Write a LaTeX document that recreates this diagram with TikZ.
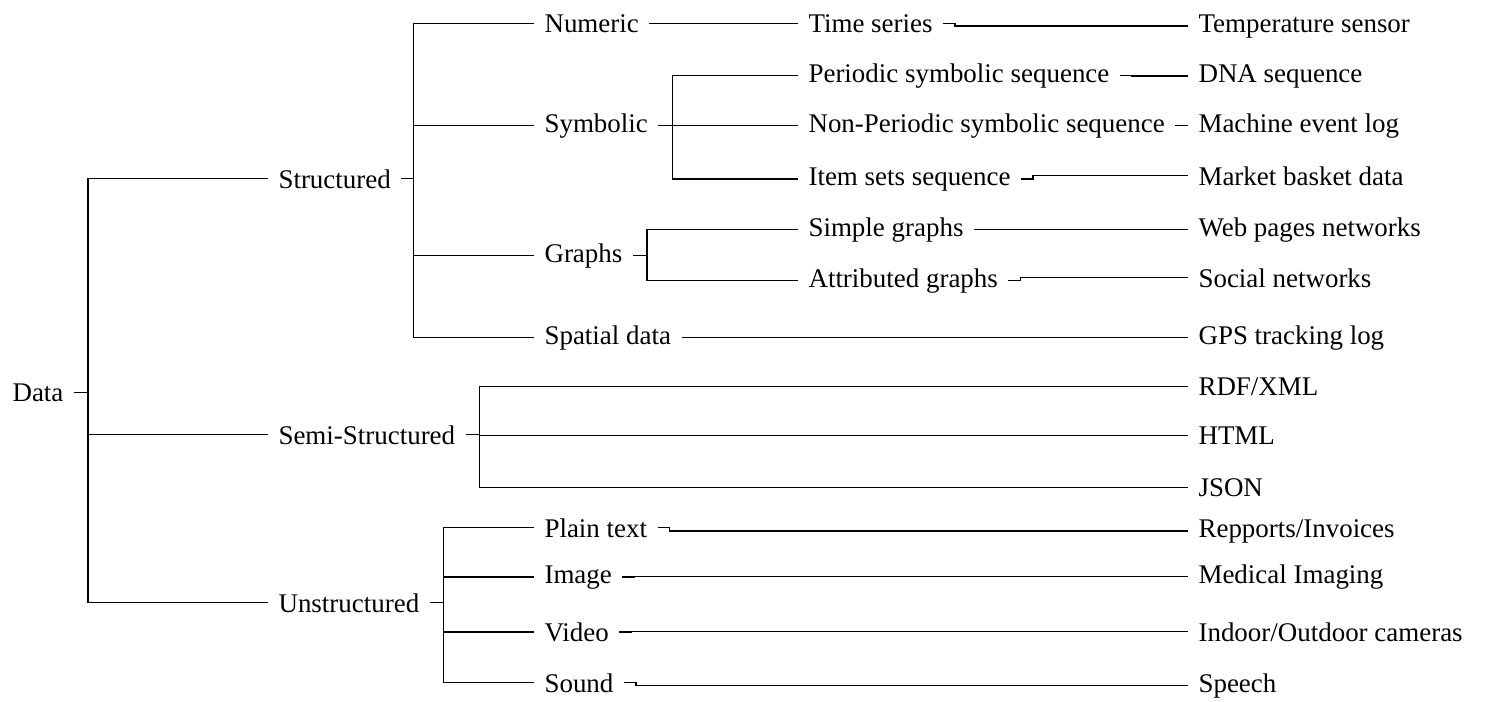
\documentclass[tikz,border=0pt]{standalone}
\usepackage{fontspec}
\setmainfont{Liberation Serif}
\usepackage{tikz}
\usetikzlibrary{calc,positioning}

\begin{document}
\begin{tikzpicture}[x=0.015cm, y=-0.015cm,
  lbl/.style={anchor=base west,inner xsep=4.3pt,inner ysep=2pt,font=\fontsize{11.5}{14}\selectfont},
  link/.style={line width=0.55pt,black}]
  \useasboundingbox (0,0) rectangle (1495,701);

  % root and first level
  \node[lbl] (data) at (2,401) {Data};
  \node[lbl] (struc) at (268,188) {Structured};
  \node[lbl] (semi) at (268,444) {Semi-Structured};
  \node[lbl] (unstruc) at (268,612) {Unstructured};

  % second level
  \node[lbl] (numeric) at (534,32) {Numeric};
  \node[lbl] (symbolic) at (534,132) {Symbolic};
  \node[lbl] (graphs) at (534,262) {Graphs};
  \node[lbl] (spatial) at (534,344) {Spatial data};
  \node[lbl] (plain) at (534,537) {Plain text};
  \node[lbl] (image) at (534,583) {Image};
  \node[lbl] (video) at (534,641) {Video};
  \node[lbl] (sound) at (534,692) {Sound};

  % third level
  \node[lbl] (tseries) at (798,32) {Time series};
  \node[lbl] (periodic) at (798,82) {Periodic symbolic sequence};
  \node[lbl] (nonper) at (798,132) {Non-Periodic symbolic sequence};
  \node[lbl] (itemsets) at (798,185) {Item sets sequence};
  \node[lbl] (simple) at (798,236) {Simple graphs};
  \node[lbl] (attrib) at (798,287) {Attributed graphs};

  % leaves
  \node[lbl] (temp) at (1188,32) {Temperature sensor};
  \node[lbl] (dna) at (1188,82) {DNA sequence};
  \node[lbl] (mlog) at (1188,132) {Machine event log};
  \node[lbl] (basket) at (1188,185) {Market basket data};
  \node[lbl] (web) at (1188,236) {Web pages networks};
  \node[lbl] (social) at (1188,287) {Social networks};
  \node[lbl] (gps) at (1188,344) {GPS tracking log};
  \node[lbl] (rdf) at (1188,395) {RDF/XML};
  \node[lbl] (html) at (1188,444) {HTML};
  \node[lbl] (json) at (1188,496) {JSON};
  \node[lbl] (reports) at (1188,537) {Repports/Invoices};
  \node[lbl] (medical) at (1188,583) {Medical Imaging};
  \node[lbl] (cameras) at (1188,641) {Indoor/Outdoor cameras};
  \node[lbl] (speech) at (1188,692) {Speech};

  % connectors
  \foreach \c in {struc,semi,unstruc}
    \draw[link] (data.east) -- ++(14,0) |- (\c.west);
  \foreach \c in {numeric,symbolic,graphs,spatial}
    \draw[link] (struc.east) -- ++(12,0) |- (\c.west);
  \foreach \c in {periodic,nonper,itemsets}
    \draw[link] (symbolic.east) -- ++(14,0) |- (\c.west);
  \foreach \c in {simple,attrib}
    \draw[link] (graphs.east) -- ++(14,0) |- (\c.west);
  \foreach \c in {rdf,html,json}
    \draw[link] (semi.east) -- ++(14,0) |- (\c.west);
  \foreach \c in {plain,image,video,sound}
    \draw[link] (unstruc.east) -- ++(14,0) |- (\c.west);

  \foreach \a/\b in {numeric/tseries,tseries/temp,periodic/dna,nonper/mlog,
                     itemsets/basket,simple/web,attrib/social,spatial/gps,
                     plain/reports,image/medical,video/cameras,sound/speech}
    \draw[link] (\a.east) -- ++(12,0) |- (\b.west);
\end{tikzpicture}
\end{document}
